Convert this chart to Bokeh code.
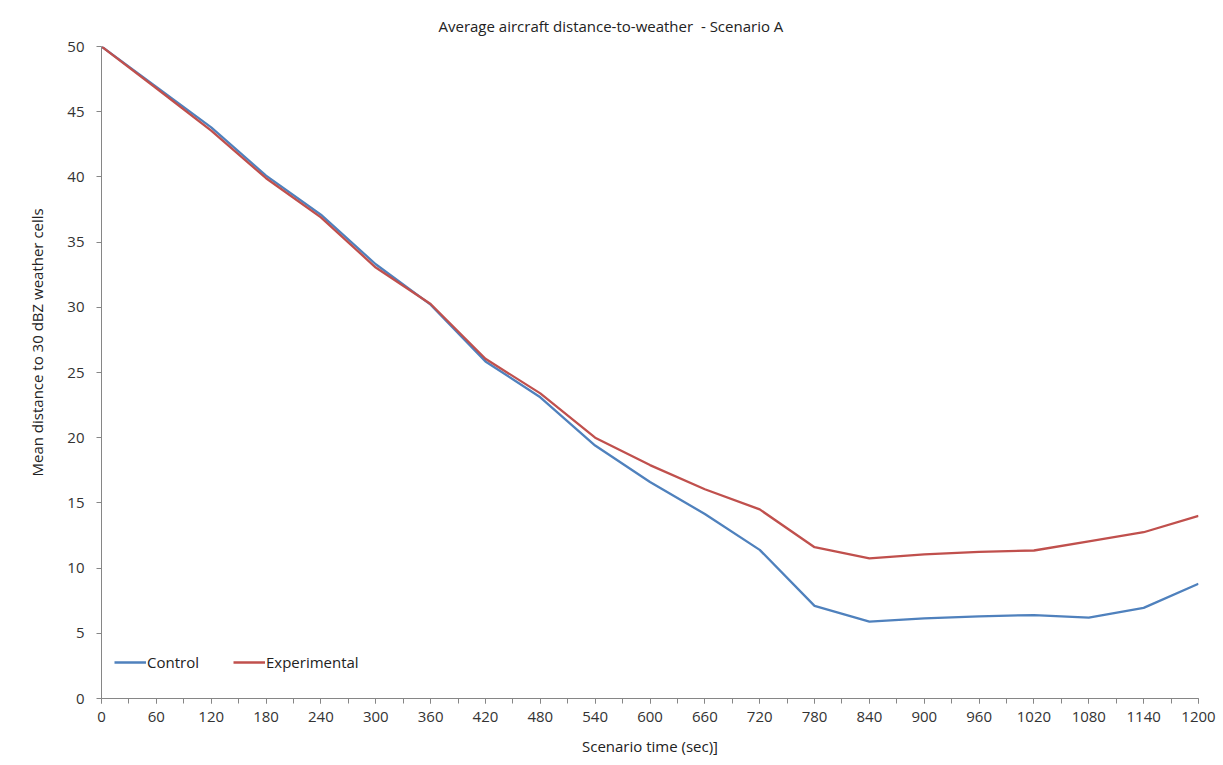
from bokeh.plotting import figure
from bokeh.models import SingleIntervalTicker, Range1d, Legend, LegendItem, Title
from bokeh.embed import file_html
from bokeh.resources import INLINE

time_sec = [0, 60, 120, 180, 240, 300, 360, 420, 480, 540, 600, 660, 720,
            780, 840, 900, 960, 1020, 1080, 1140, 1200]
control = [50.0, 46.9, 43.8, 40.1, 37.1, 33.3, 30.2, 25.85, 23.1, 19.4, 16.6, 14.15, 11.4,
           7.1, 5.9, 6.15, 6.3, 6.4, 6.2, 6.95, 8.8]
experimental = [50.0, 46.8, 43.55, 39.9, 36.9, 33.05, 30.25, 26.05, 23.4, 20.0, 17.9, 16.05, 14.5,
                11.6, 10.75, 11.05, 11.25, 11.35, 12.05, 12.75, 14.0]
title_text = "Average aircraft distance-to-weather \u00a0- Scenario A"
x_label = "Scenario time (sec)]"
y_label = "Mean distance to 30 dBZ weather cells"

FONT = "Open Sans"
TXT = "#333333"
AX = "#868686"
FS = "15px"

p = figure(width=1223, height=765, output_backend="svg", toolbar_location=None,
           x_range=Range1d(0, 1200), y_range=Range1d(0, 50),
           min_border_left=101, min_border_right=25, min_border_top=46, min_border_bottom=67)
p.outline_line_color = None
p.xgrid.visible = False
p.ygrid.visible = False
p.background_fill_color = "white"
p.border_fill_color = "white"

p.title.text = title_text
p.title.align = "left"
p.title.offset = 337
p.title.standoff = 21
p.title.text_font = FONT
p.title.text_font_size = FS
p.title.text_font_style = "normal"
p.title.text_color = "#222222"

r1 = p.line(time_sec, control, line_color="#4F81BD", line_width=2.3)
r2 = p.line(time_sec, experimental, line_color="#C0504D", line_width=2.3)

xa = p.xaxis[0]
xa.ticker = SingleIntervalTicker(interval=60, num_minor_ticks=2)
xa.axis_line_color = AX
xa.major_tick_line_color = AX
xa.minor_tick_line_color = AX
xa.major_tick_in = 0
xa.major_tick_out = 5
xa.minor_tick_in = 0
xa.minor_tick_out = 5
xa.major_label_text_font = FONT
xa.major_label_text_font_size = FS
xa.major_label_text_color = TXT
xa.major_label_standoff = 8
xa.axis_label = x_label
xa.axis_label_text_font = FONT
xa.axis_label_text_font_size = FS
xa.axis_label_text_font_style = "normal"
xa.axis_label_text_color = "#222222"
xa.axis_label_standoff = 11

ya = p.yaxis[0]
ya.ticker = SingleIntervalTicker(interval=5, num_minor_ticks=0)
ya.axis_line_color = AX
ya.major_tick_line_color = AX
ya.minor_tick_line_color = None
ya.major_tick_in = 0
ya.major_tick_out = 5
ya.major_label_text_font = FONT
ya.major_label_text_font_size = FS
ya.major_label_text_color = TXT
ya.major_label_standoff = 12

# y-axis title as a side title, so it can sit slightly above the frame centre like the reference
p.add_layout(Title(text=y_label, align="left", offset=222, standoff=36,
                   text_font=FONT, text_font_size=FS, text_font_style="normal",
                   text_color="#222222"), "left")

legend = Legend(items=[LegendItem(label="Control", renderers=[r1]),
                       LegendItem(label="Experimental", renderers=[r2])],
                orientation="horizontal", location=(13, 26),
                background_fill_alpha=0, border_line_color=None,
                label_text_font=FONT, label_text_font_size=FS, label_text_color="#222222",
                glyph_width=32, label_standoff=1, spacing=34, padding=6, margin=0)
p.add_layout(legend, "center")

open("out.html", "w").write(file_html(p, INLINE))
